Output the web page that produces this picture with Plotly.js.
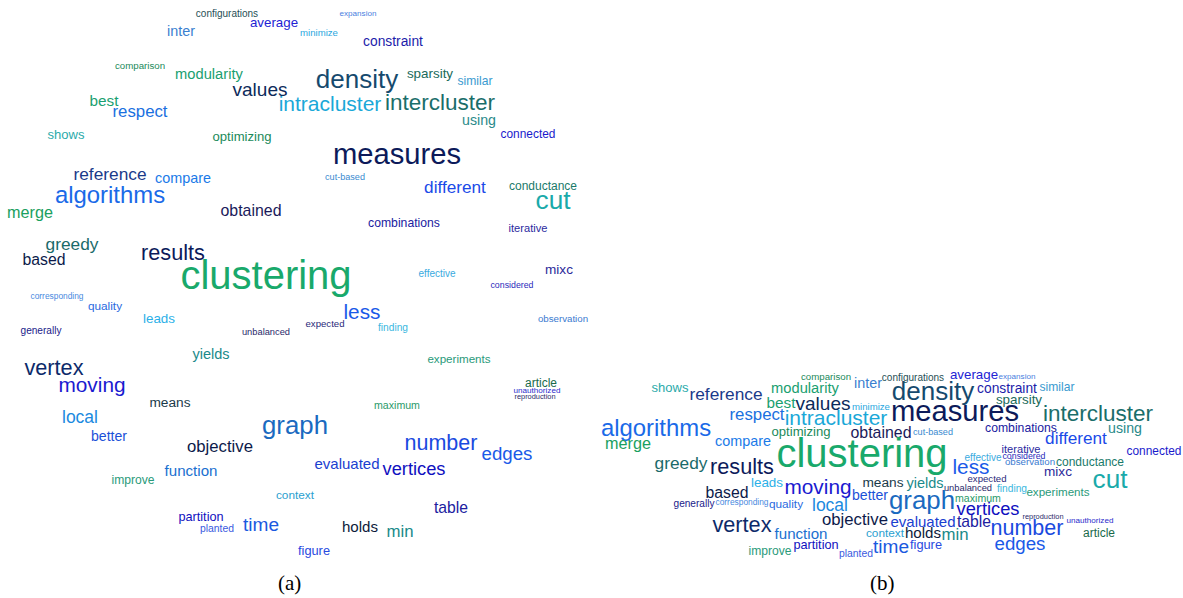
<!DOCTYPE html>
<html>
<head>
<meta charset="utf-8">
<script src="https://cdn.plot.ly/plotly-3.0.1.min.js"></script>
<style>html,body{margin:0;padding:0;background:#fff;}#chart{width:1183px;height:598px;}</style>
</head>
<body>
<div id="chart"></div>
<script>
// Words of the cloud (same vocabulary in both panels)
const words = ["configurations","average","expansion","minimize","inter","constraint","comparison","modularity","density","sparsity","similar","values","best","intracluster","intercluster","respect","using","shows","optimizing","connected","measures","reference","compare","cut-based","different","conductance","cut","algorithms","merge","obtained","combinations","iterative","greedy","results","based","clustering","effective","mixc","considered","corresponding","quality","less","leads","observation","expected","finding","generally","unbalanced","yields","experiments","vertex","moving","article","unauthorized","reproduction","means","maximum","local","graph","better","objective","number","edges","evaluated","vertices","function","improve","context","table","partition","planted","time","holds","min","figure"];

// Word weights (rendered as font size)
const weight = [10,13.3,8.1,9.6,14.4,13.8,9.7,14.7,26,13.4,12.1,19,15.3,21,22.5,16.8,14.2,13,13.1,11.9,29.2,17.3,14.4,9.1,17.2,12,26.2,23.9,16.2,15.9,12.2,11.1,17.3,21.7,15.8,40,10,13.6,8.8,8.4,11.8,20.8,13.4,9.7,9.6,10.2,10.1,9.3,14.5,11.6,21.7,20.8,12,8.1,7.4,13.7,10.6,17.5,25.8,14.1,16.7,21.5,18.7,15,18.3,15.1,12.1,11.8,15.7,12.7,10.4,19.1,15.1,16.8,12.8];

// Word colours
const colour = ["#1f4f55","#2222d4","#4a80e0","#2aa8e0","#3a7fd0","#1c1caa","#1a8a5a","#1aa070","#164a6e","#1a6a5a","#3a9ad0","#0c2a5a","#1aa070","#1aa8d8","#1a6e6a","#1a70e0","#2a8a8a","#2aaaaa","#1a8a5a","#1a1acc","#0c1a5a","#1a3a8a","#1a7ae8","#3a8ad0","#1a4ae8","#1a7a6a","#1aaaaa","#1a6ae8","#1aa060","#1a1a5a","#2020a0","#2a2aa0","#1a6a6a","#0c1a5a","#0c1a4a","#19a96b","#3aaae0","#2a2a9a","#2a2abb","#4a8ae0","#2a6ae0","#1a5ae8","#2ab0e8","#3a7ad0","#2a2a7a","#3ab8e0","#1a1a8a","#2a2a6a","#1a8a8a","#2a9a7a","#0c2a6a","#1a1ad0","#1a6a4a","#2a2acc","#2a2a6a","#1a3a4a","#2a9a6a","#1a8ae0","#1a6ac0","#1a50d8","#0c1a4a","#1a4ae0","#1a5ae8","#1a40d0","#1010c0","#1a70d0","#2a9a7a","#2aa0d0","#2020a0","#1010c0","#3a5ae0","#1a5ae0","#0c1a3a","#1a8a8a","#2a4ae0"];

// Placement in panel (a)
const xA = [227,274,358,319,181,393,140,209,357,430,475,260,104,330,440,140,479,66,242,528,397,110,183,345,455,543,553,110,30,251,404,528,72,173,44,266,437,559,512,57,105,362,159,563,325,393,41,266,211,459,54,92,541,537,535,170,397,80,295,109,220,441,507,347,414,191,133,295,451,201,217,261,360,400,314];
const yA = [12,22,12,32,30,41,65,73,79,73,80,89,100,104,102,111,119,134,136,133,155,174,177,176,187,185,200,195,212,210,222,227,244,253,259,277,272,269,284,295,305,312,318,318,323,326,329,331,353,358,368,385,382,389,395,402,404,417,426,435,446,443,453,463,468,470,479,494,507,516,527,524,526,531,550];

// Placement in panel (b)
const xB = [913,974,1017,871,868,1007,826,805,933,1019,1057,823,781,836,1098,757,1125,670,801,1154,955,726,743,933,1076,1090,1110,656,628,881,1021,1021,681,742,727,862,983,1058,1024,742,786,971,767,1030,987,1012,694,968,925,1058,742,818,1099,1090,1043,883,978,830,922,870,855,1027,1020,923,988,801,770,885,974,816,856,891,923,955,926];
const yB = [376,374,375,406,382,388,376,387,391,399,386,403,402,418,413,414,427,387,431,450,412,394,440,431,438,461,479,428,443,432,427,448,463,467,492,455,456,471,455,501,503,467,482,461,478,487,502,487,482,491,525,487,532,519,515,482,497,505,501,494,519,528,543,521,508,533,550,532,521,544,552,546,532,534,544];

const captions = ["(a)", "(b)"];
const captionX = [289, 882];

function cloud(xs, ys) {
  return {
    type: "scatter", mode: "text",
    x: xs, y: ys, text: words,
    textposition: "middle center",
    textfont: { family: "Liberation Sans, Arial, sans-serif", size: weight, color: colour },
    hoverinfo: "text", showlegend: false, cliponaxis: false
  };
}

const layout = {
  width: 1183, height: 598,
  margin: { l: 0, r: 0, t: 0, b: 0 },
  paper_bgcolor: "#ffffff", plot_bgcolor: "#ffffff",
  xaxis: { range: [0, 1183], visible: false, fixedrange: true },
  yaxis: { range: [596, -2], visible: false, fixedrange: true },
  annotations: captions.map((c, i) => ({
    x: captionX[i], y: 581, xref: "x", yref: "y", text: c, showarrow: false,
    font: { family: "Liberation Serif, Times New Roman, serif", size: 21, color: "#000" }
  }))
};

Plotly.newPlot("chart", [cloud(xA, yA), cloud(xB, yB)], layout, { displayModeBar: false, staticPlot: true });
</script>
</body>
</html>
